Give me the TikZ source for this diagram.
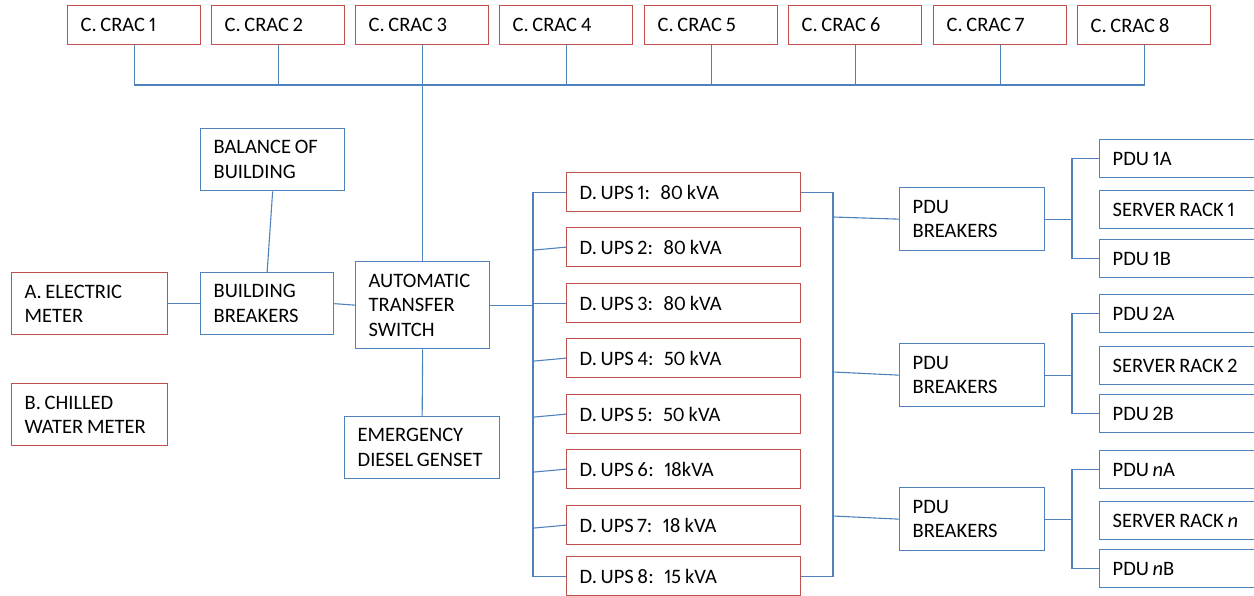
\documentclass[tikz,border=0pt]{standalone}
\usepackage{fontspec}
\setmainfont[Numbers=Proportional]{Carlito}
\definecolor{boxred}{HTML}{C0504D}
\definecolor{boxblue}{HTML}{4F81BD}
\newcommand{\boxfont}{\fontsize{20.5}{24.5}\selectfont}
% word gap, gap before a unit, and the wider gap after a colon
\newcommand{\ws}{\hspace{0.18em}}
\newcommand{\ugap}{\hspace{0.2em}}
\newcommand{\colgap}{\hspace{0.5em}}
\tikzset{
  basebox/.style={draw, line width=1.3pt, anchor=north west, align=left,
    inner xsep=13pt, inner ysep=0pt, font=\boxfont},
  redbox/.style={basebox, draw=boxred},
  bluebox/.style={basebox, draw=boxblue},
  wire/.style={draw=boxblue, line width=1.1pt}
}
% \bx{name}{x}{y}{width}{height}{style}{text}
\newcommand{\bx}[7]{%
  \node[#6, minimum width=#4pt, text width=#4pt-26pt, minimum height=#5pt]
    (#1) at (#2,#3) {#7};}
\begin{document}
\begin{tikzpicture}[x=1pt,y=-1pt]
\useasboundingbox (0,0) rectangle (1254,596);
\clip (0,0) rectangle (1254,596);

% cooling units along the top
\bx{c1}{67}{5}{133}{39}{redbox}{C.\ws CRAC\ws 1}
\bx{c2}{211}{5}{133}{39}{redbox}{C.\ws CRAC\ws 2}
\bx{c3}{355}{5}{133}{39}{redbox}{C.\ws CRAC\ws 3}
\bx{c4}{499}{5}{133}{39}{redbox}{C.\ws CRAC\ws 4}
\bx{c5}{644}{5}{133}{39}{redbox}{C.\ws CRAC\ws 5}
\bx{c6}{788}{5}{133}{39}{redbox}{C.\ws CRAC\ws 6}
\bx{c7}{933}{5}{133}{39}{redbox}{C.\ws CRAC\ws 7}
\bx{c8}{1077}{5}{133}{39}{redbox}{C.\ws CRAC\ws 8}

% utility side
\bx{bal}{200}{128}{144}{62}{bluebox}{BALANCE\ws OF\\BUILDING}
\bx{bb}{200}{272}{133}{62}{bluebox}{BUILDING\\BREAKERS}
\bx{em}{11}{272}{156}{62}{redbox}{A.\ws ELECTRIC\\METER}
\bx{cwm}{11}{383}{156}{62}{redbox}{B.\ws CHILLED\\WATER\ws METER}
\bx{ats}{355}{261}{134}{87}{bluebox}{AUTOMATIC\\TRANSFER\\SWITCH}
\bx{edg}{344}{416}{155}{62}{bluebox}{EMERGENCY\\DIESEL\ws GENSET}

% UPS units
\bx{u1}{566}{172}{234}{39}{redbox}{D.\ws UPS\ws 1:\colgap 80\ugap kVA}
\bx{u2}{566}{227}{234}{39}{redbox}{D.\ws UPS\ws 2:\colgap 80\ugap kVA}
\bx{u3}{566}{283}{234}{39}{redbox}{D.\ws UPS\ws 3:\colgap 80\ugap kVA}
\bx{u4}{566}{338}{234}{39}{redbox}{D.\ws UPS\ws 4:\colgap 50\ugap kVA}
\bx{u5}{566}{394}{234}{39}{redbox}{D.\ws UPS\ws 5:\colgap 50\ugap kVA}
\bx{u6}{566}{449}{234}{39}{redbox}{D.\ws UPS\ws 6:\colgap 18kVA}
\bx{u7}{566}{505}{234}{39}{redbox}{D.\ws UPS\ws 7:\colgap 18\ugap kVA}
\bx{u8}{566}{556}{234}{39}{redbox}{D.\ws UPS\ws 8:\colgap 15\ugap kVA}

% PDU breakers
\bx{pb1}{899}{187}{145}{63}{bluebox}{PDU\\BREAKERS}
\bx{pb2}{899}{343}{145}{63}{bluebox}{PDU\\BREAKERS}
\bx{pb3}{899}{487}{145}{63}{bluebox}{PDU\\BREAKERS}

% racks and PDUs
\bx{p1a}{1099}{139}{200}{38}{bluebox}{PDU\ws 1A}
\bx{r1}{1099}{190}{200}{38}{bluebox}{SERVER\ws RACK\ws 1}
\bx{p1b}{1099}{239}{200}{38}{bluebox}{PDU\ws 1B}
\bx{p2a}{1099}{294}{200}{38}{bluebox}{PDU\ws 2A}
\bx{r2}{1099}{346}{200}{38}{bluebox}{SERVER\ws RACK\ws 2}
\bx{p2b}{1099}{394}{200}{38}{bluebox}{PDU\ws 2B}
\bx{pna}{1099}{450}{200}{38}{bluebox}{PDU\ws \textit{n}A}
\bx{rn}{1099}{501}{200}{38}{bluebox}{SERVER\ws RACK\ws \textit{n}}
\bx{pnb}{1099}{549}{200}{38}{bluebox}{PDU\ws \textit{n}B}

% bus coordinates
\coordinate (topbus) at (0,85);
\coordinate (lbus) at (533,0);
\coordinate (rbus) at (833,0);
\coordinate (fork) at (1072,0);

% CRAC bus
\draw[wire] (c1.south) -- (c1.south |- topbus) -- (c8.south |- topbus) -- (c8.south);
\foreach \c in {c2,c3,c4,c5,c6,c7}
  \draw[wire] (\c.south) -- (\c.south |- topbus);
\draw[wire] (ats.north) -- (ats.north |- topbus);

% utility feed
\draw[wire] (em.east) -- (bb.west);
\draw[wire] (bal.south) -- (bb.north);
\draw[wire] (bb.east) -- (ats.west);
\draw[wire] (ats.south) -- (edg.north);
\draw[wire] (ats.east) -- (ats.east -| lbus);

% UPS input bus
\draw[wire] (u1.west) -- (u1.west -| lbus) -- (u8.west -| lbus) -- (u8.west);
\draw[wire] (u3.west) -- (u3.west -| lbus);
\foreach \u in {u2,u4,u5,u6,u7}
  \draw[wire] (\u.west) -- ([yshift=-3pt]\u.west -| lbus);

% UPS output bus
\draw[wire] (u1.east) -- (u1.east -| rbus) -- (u8.east -| rbus) -- (u8.east);
\draw[wire] (833,217) -- (pb1.west);
\draw[wire] (833,372) -- (pb2.west);
\draw[wire] (833,516) -- (pb3.west);

% PDU forks
\foreach \b/\a/\z in {pb1/p1a/p1b, pb2/p2a/p2b, pb3/pna/pnb}{
  \draw[wire] (\b.east) -- (\b.east -| fork);
  \draw[wire] (\a.west) -- (\a.west -| fork) -- (\z.west -| fork) -- (\z.west);
}
\end{tikzpicture}
\end{document}
